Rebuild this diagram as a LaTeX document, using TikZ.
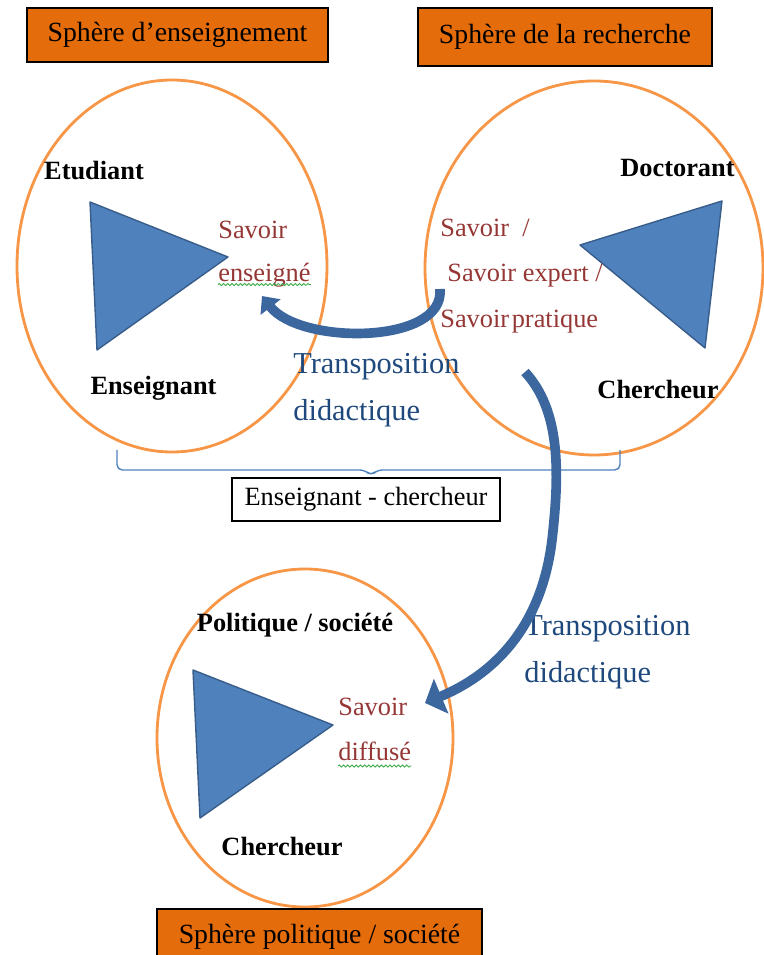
\documentclass[tikz,border=0pt]{standalone}
\usepackage{fontspec}
\setmainfont{Liberation Serif}
\usepackage{xcolor}
\usepackage{tikz}
\usetikzlibrary{arrows.meta}
\usetikzlibrary{decorations.pathmorphing}
\definecolor{boxorange}{RGB}{228,108,10}
\definecolor{orborange}{RGB}{247,150,70}
\definecolor{triblue}{RGB}{79,129,189}
\definecolor{triborder}{RGB}{56,93,138}
\definecolor{flowblue}{RGB}{60,103,158}
\definecolor{savoirred}{RGB}{149,55,53}
\definecolor{transblue}{RGB}{31,73,125}
\definecolor{spellgreen}{RGB}{60,170,70}

\begin{document}
\begin{tikzpicture}[transform shape,scale=1,
	sphere/.style={draw=black,fill=boxorange,line width=0.9pt,inner sep=0pt,font=\fontsize{15.8}{19}\selectfont},
	role/.style={font=\bfseries\fontsize{15}{18}\selectfont},
	savoir/.style={text=savoirred,align=left,anchor=west,inner sep=0pt},
	transpo/.style={text=transblue,align=left,anchor=west,inner sep=0pt,font=\fontsize{17.3}{26.6}\selectfont},
	orb/.style={draw=orborange,line width=1.6pt},
	tri/.style={fill=triblue,draw=triborder,line width=0.8pt,line join=round},
	flow/.style={draw=flowblue,line width=5.5pt},
	wavy/.style={draw=spellgreen,line width=0.5pt,decorate,decoration={snake,amplitude=0.6pt,segment length=2.4pt}}]
		\useasboundingbox (0,0) rectangle (15.28,19.1);
		\coordinate (c1) at (3.44,13.78);
		\coordinate (c2) at (11.88,13.74);
		\coordinate (c3) at (6.10,4.34);
		\draw[orb] (c1) ellipse [x radius=3.10,y radius=3.72];
		\draw[orb] (c2) ellipse [x radius=3.38,y radius=3.74];
		\draw[orb] (c3) ellipse [x radius=2.96,y radius=3.38];
		\filldraw[tri] (1.80,15.06) -- (4.56,13.96) -- (1.94,12.10) -- cycle;
		\filldraw[tri] (11.60,14.20) -- (14.44,15.08) -- (14.10,12.14) -- cycle;
		\filldraw[tri] (3.86,5.70) -- (6.66,4.60) -- (4.00,2.74) -- cycle;
	\node[sphere,minimum width=6.02cm,minimum height=1.08cm] (sphEns) at (3.55,18.40) {Sphère d’enseignement};
	\node[sphere,minimum width=5.88cm,minimum height=1.16cm] (sphRech) at (11.30,18.36) {Sphère de la recherche};
	\node[sphere,minimum width=6.50cm,minimum height=1.12cm] (sphPol) at (6.39,0.36) {Sphère politique / société};
	\node[role] (etud) at (1.88,15.68) {Etudiant};
	\node[role] (ens) at (3.07,11.34) {Enseignant};
	\node[role] (doct) at (13.55,15.74) {Doctorant};
	\node[role] (cherch) at (13.16,11.30) {Chercheur};
	\node[role] (pol) at (5.90,6.60) {Politique / société};
	\node[role] (cherchPol) at (5.64,2.16) {Chercheur};
	\node[savoir,font=\fontsize{15}{24.4}\selectfont] (savEns) at (4.36,14.02) {Savoir\\enseigné};
	\node[savoir,font=\fontsize{15}{26}\selectfont] (savRech) at (8.80,13.58) {Savoir\ \ /\\\hspace*{4pt}Savoir expert /\\Savoir\kern1.5pt pratique};
	\node[savoir,font=\fontsize{15}{25.5}\selectfont] (savDiff) at (6.76,4.51) {Savoir\\diffusé};
		\draw[wavy] ([yshift=1.6pt]savEns.south west) -- ([yshift=1.6pt]savEns.south east);
		\draw[wavy] ([yshift=-2.8pt]savDiff.south west) -- ([yshift=-2.8pt]savDiff.south east);
	\node[transpo] (transA) at (5.86,11.30) {Transposition\\didactique};
	\node[transpo] (transB) at (10.48,6.06) {Transposition\\didactique};
		\draw[draw=triblue,line width=0.8pt,rounded corners=3pt] (2.34,10.10) -- (2.34,9.70) -- (7.30,9.70) -- (7.42,9.58) -- (7.54,9.70) -- (12.40,9.70) -- (12.40,10.10);
	\node[draw=black,fill=white,line width=0.8pt,minimum width=5.36cm,minimum height=0.86cm,font=\fontsize{15}{18}\selectfont] (ensCh) at (7.32,9.11) {Enseignant - chercheur};
		\coordinate (queueA) at (8.80,13.32);
		\coordinate (pointeA) at (5.24,13.18);
		\coordinate (queueB) at (10.50,11.66);
		\coordinate (pointeB) at (8.50,5.04);
		\draw[flow,-{Triangle[length=8pt,width=14pt]}] (queueA) .. controls (8.90,12.20) and (6.00,12.20) .. (pointeA);
		\draw[flow,-{Triangle[length=10pt,width=21pt]}] (queueB) .. controls (11.20,10.90) and (11.20,9.70) .. (11.04,8.30) .. controls (10.80,6.30) and (9.60,5.50) .. (pointeB);
\end{tikzpicture}
\end{document}
